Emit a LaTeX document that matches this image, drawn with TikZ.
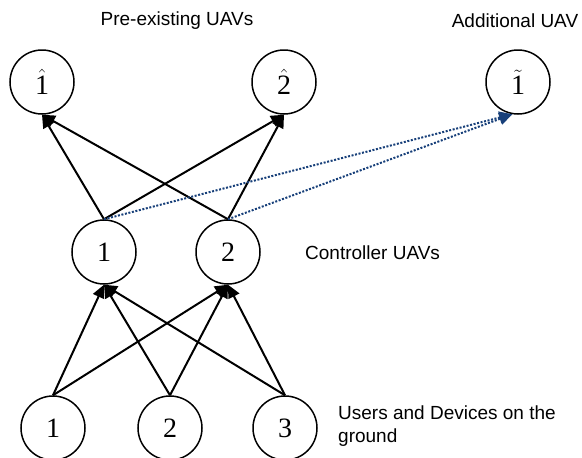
\documentclass[tikz,border=0pt]{standalone}
\usepackage{fontspec}
\setmainfont{Liberation Serif}
\setsansfont{Liberation Sans}
\usetikzlibrary{arrows.meta,positioning}

\definecolor{navy}{RGB}{24,64,122}

\begin{document}
\begin{tikzpicture}[
			x=1pt, y=-1pt,
			uav/.style={circle, draw, line width=1.5pt, minimum size=64pt, inner sep=0pt, font=\fontsize{28}{32}\selectfont},
			caption/.style={font=\sffamily\fontsize{19}{23}\selectfont, inner sep=0pt, align=left},
			link/.style={draw, line width=2pt, -{Triangle[length=13pt,width=12pt]}},
			extra/.style={draw=navy, line width=2pt, dash pattern=on 2pt off 1.6pt, -{Triangle[length=13pt,width=12pt]}}
		]
		\useasboundingbox (0,0) rectangle (582,458);

		% Pre-existing and additional UAVs
		\node (top1) [uav] at (42,82) {\(\hat{\mbox{1}}\)};
		\node (top2) [uav] at (284,82) {\(\hat{\mbox{2}}\)};
		\node (add) [uav] at (518,82) {\(\tilde{\mbox{1}}\)};

		% Controller UAVs
		\node (mid1) [uav] at (104,252) {1};
		\node (mid2) [uav] at (228,252) {2};

		% Users and devices
		\node (gnd1) [uav] at (53,428) {1};
		\node (gnd2) [uav] at (170,428) {2};
		\node (gnd3) [uav] at (285,428) {3};

		% Captions
		\node (preexisting) [caption] at (177,21) {Pre-existing UAVs};
		\node (additional) [caption] at (515,21) {Additional UAV};
		\node (controller) [caption, anchor=west] at (305,253) {Controller UAVs};
		\node (users) [caption, anchor=west] at (338,426) {Users and Devices on the\\ground};

		% Lines
		\draw [link] (mid1.north) -- (top1.south);
		\draw [link] (mid1.north) -- (top2.south);
		\draw [link] (mid2.north) -- (top1.south);
		\draw [link] (mid2.north) -- (top2.south);
		\draw [extra] (mid1.north) -- (add.260);
		\draw [extra] (mid2.north) -- (add.260);

		\draw [link] (gnd1.north) -- (mid1.south);
		\draw [link] (gnd1.north) -- (mid2.south);
		\draw [link] (gnd2.north) -- (mid1.south);
		\draw [link] (gnd2.north) -- (mid2.south);
		\draw [link] (gnd3.north) -- (mid1.south);
		\draw [link] (gnd3.north) -- (mid2.south);
	\end{tikzpicture}
\end{document}
